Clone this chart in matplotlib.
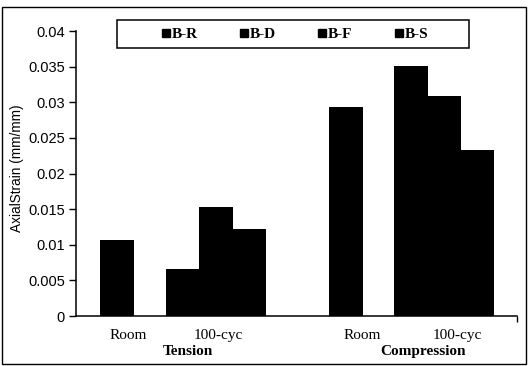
import matplotlib.pyplot as plt
from matplotlib.lines import Line2D
from matplotlib.patches import Rectangle

# categories (first level) and their groups (second level)
categories = ["Room", "100-cyc", "Room", "100-cyc"]
groups = ["Tension", "Compression"]
series = ["B-R", "B-D", "B-F", "B-S"]

# axial strain (mm/mm), None = not tested
b_r = [0.0107, None, 0.0294, None]
b_d = [None, 0.0066, None, 0.0351]
b_f = [None, 0.0153, None, 0.0309]
b_s = [None, 0.0122, None, 0.0233]
values = [b_r, b_d, b_f, b_s]

# layout (in bar widths from the y axis)
group_start = [0.73, 2.73, 7.67, 9.64]
label_pos = [1.58, 4.30, 8.67, 11.55]
xmax = 13.36

fig = plt.figure(figsize=(5.31, 3.66), dpi=100)
ax = fig.add_axes([0.1431, 0.1366, 0.8305, 0.7787])

for i in range(len(categories)):
    k = 0
    for s in range(len(series)):
        v = values[s][i]
        if v is None:
            continue
        ax.bar(group_start[i] + k, v, width=1.02, align='edge', color='black',
               linewidth=0, zorder=3)
        k += 1

ax.set_xlim(0, xmax)
ax.set_ylim(0, 0.04)
ax.set_yticks([0, 0.005, 0.01, 0.015, 0.02, 0.025, 0.03, 0.035, 0.04])
ax.set_yticklabels(["0", "0.005", "0.01", "0.015", "0.02", "0.025", "0.03", "0.035", "0.04"],
                   fontfamily='Liberation Sans', fontsize=10.5)
ax.tick_params(axis='y', direction='out', length=5, width=1, pad=3)
ax.set_xticks(label_pos)
ax.set_xticklabels(categories, fontfamily='Liberation Serif', fontsize=11)
ax.tick_params(axis='x', length=0, pad=9)
ax.set_xticks([xmax], minor=True)
ax.tick_params(axis='x', which='minor', direction='out', length=4, width=1)

ax.set_ylabel("AxialStrain (mm/mm)", fontfamily='Liberation Sans', fontsize=9.8)
ax.yaxis.set_label_coords(-0.118, 0.52)

for name, xc in zip(groups, [0.254, 0.787]):
    ax.text(xc, -0.123, name, transform=ax.transAxes, ha='center', va='center',
            fontfamily='Liberation Serif', fontweight='bold', fontsize=11)

for side in ['top', 'right']:
    ax.spines[side].set_visible(False)
for side in ['left', 'bottom']:
    ax.spines[side].set_linewidth(1.1)

# legend box
ax.add_patch(Rectangle((0.093, 0.940), 0.798, 0.099, transform=ax.transAxes,
                       fill=False, edgecolor='black', linewidth=1.1, clip_on=False))
handles = [Line2D([], [], marker='s', linestyle='none', color='black', markersize=6)
           for _ in series]
ax.legend(handles, series, loc='center', bbox_to_anchor=(0.497, 0.989), ncol=4,
          frameon=False, handlelength=0.55, handletextpad=0.1, columnspacing=2.75,
          prop={'family': 'Liberation Serif', 'weight': 'bold', 'size': 11})

# outer frame
fig.patches.append(Rectangle((0.003, 0.006), 0.988, 0.976, transform=fig.transFigure,
                             fill=False, edgecolor='black', linewidth=1.0))

fig.savefig("out.png", dpi=100)
